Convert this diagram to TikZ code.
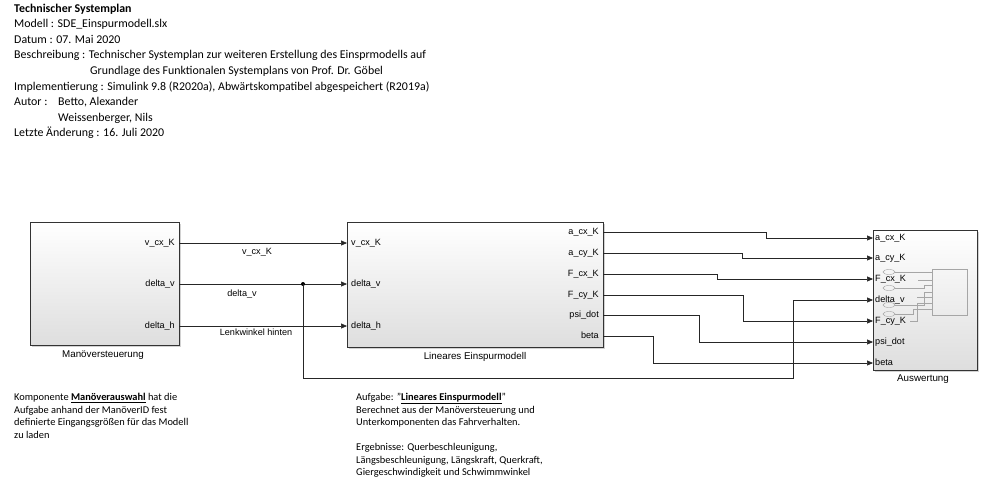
\documentclass[tikz,border=0pt]{standalone}
\usepackage{fontspec}
\setmainfont{Carlito}
\newfontfamily\arialf{Liberation Sans}
\usetikzlibrary{arrows.meta,shadows}
\begin{document}
\begin{tikzpicture}[x=1pt,y=-1pt,
 hdr/.style={anchor=west,inner sep=0,text height=8pt,text depth=2.5pt,font=\fontsize{11.9}{13}\selectfont},
 note/.style={anchor=west,inner sep=0,text height=7pt,text depth=2pt,font=\fontsize{10.4}{12}\selectfont},
 blk/.style={draw=black!80, line width=0.8pt, top color=white, bottom color=black!13, anchor=north west, inner sep=0,
   drop shadow={shadow xshift=1.5pt,shadow yshift=-1.5pt,opacity=0.35}},
 port/.style={inner sep=0, text height=6.5pt, text depth=1.8pt, font=\arialf\fontsize{9.1}{10}\selectfont},
 ttl/.style={inner sep=0, font=\arialf\fontsize{9.8}{11}\selectfont},
 wire/.style={line width=0.6pt, draw=black!85},
 sig/.style={wire,-{Triangle[length=6pt,width=5pt]}},
 icon/.style={draw=black!35, line width=0.4pt}
]
\useasboundingbox[fill=white] (0,0) rectangle (1000,480);

% header
\node[hdr,font=\fontsize{11.9}{13}\selectfont\bfseries] (h1) at (14,9.5) {Technischer Systemplan};
\node[hdr] (h2) at (14,25) {Modell : SDE\_Einspurmodell.slx};
\node[hdr] (h3) at (14,40.5) {Datum : 07. Mai 2020};
\node[hdr] (h4) at (14,56) {Beschreibung : Technischer Systemplan zur weiteren Erstellung des Einsprmodells auf};
\node[hdr] (h5) at (90,71.5) {Grundlage des Funktionalen Systemplans von Prof. Dr. Göbel};
\node[hdr] (h6) at (14,87.5) {Implementierung : Simulink 9.8 (R2020a), Abwärtskompatibel abgespeichert (R2019a)};
\node[hdr] (h7) at (14,103) {Autor :};
\node[hdr] (h7b) at (58,103) {Betto, Alexander};
\node[hdr] (h8) at (58,118.5) {Weissenberger, Nils};
\node[hdr] (h9) at (14,134) {Letzte Änderung : 16. Juli 2020};

% blocks
\node[blk, minimum width=149pt, minimum height=123pt] (man) at (30,222) {};
\node[blk, minimum width=256pt, minimum height=125pt] (ein) at (347,222) {};
\node[blk, minimum width=104pt, minimum height=140pt] (aus) at (873,230) {};

\node[ttl] (tman) at (103,355) {Manöversteuerung};
\node[ttl] (tein) at (475,357) {Lineares Einspurmodell};
\node[ttl] (taus) at (923,379.5) {Auswertung};

% Auswertung icon
\draw[icon] (932,269) rectangle (967,315);
\foreach \yy in {272,288,305,314} \draw[icon] (889,\yy) ellipse (6pt and 2.5pt);
\draw[icon] (895,272) -- (932,272);
\draw[icon] (918,280) -- (932,280);
\draw[icon] (895,288) -- (924,288) -- (924,285) -- (932,285);
\draw[icon] (917,297) -- (932,297);
\draw[icon] (895,305) -- (924,305) -- (924,292) -- (932,292);
\draw[icon] (895,314) -- (913,314) -- (913,309) -- (932,309);
\draw[icon] (910,321) -- (917,321) -- (917,303) -- (932,303);

% ports Manoeversteuerung
\node[port,anchor=east] (pm1) at (175,243) {v\_cx\_K};
\node[port,anchor=east] (pm2) at (175,284.5) {delta\_v};
\node[port,anchor=east] (pm3) at (175,326) {delta\_h};
\coordinate (mo1) at (179,243);
\coordinate (mo2) at (179,284);
\coordinate (mo3) at (179,326);

% ports Einspurmodell
\node[port,anchor=west] (pe1) at (351,243) {v\_cx\_K};
\node[port,anchor=west] (pe2) at (351,284.5) {delta\_v};
\node[port,anchor=west] (pe3) at (351,326) {delta\_h};
\coordinate (ei1) at (347,243);
\coordinate (ei2) at (347,284);
\coordinate (ei3) at (347,326);

\node[port,anchor=east] (po1) at (599,232) {a\_cx\_K};
\node[port,anchor=east] (po2) at (599,253) {a\_cy\_K};
\node[port,anchor=east] (po3) at (599,274) {F\_cx\_K};
\node[port,anchor=east] (po4) at (599,295) {F\_cy\_K};
\node[port,anchor=east] (po5) at (599,315.5) {psi\_dot};
\node[port,anchor=east] (po6) at (599,336) {beta};
\coordinate (eo1) at (603,232);
\coordinate (eo2) at (603,253);
\coordinate (eo3) at (603,274);
\coordinate (eo4) at (603,295);
\coordinate (eo5) at (603,315);
\coordinate (eo6) at (603,336);

% ports Auswertung
\node[port,anchor=west] (pa1) at (875,238) {a\_cx\_K};
\node[port,anchor=west] (pa2) at (875,258.5) {a\_cy\_K};
\node[port,anchor=west] (pa3) at (875,279.5) {F\_cx\_K};
\node[port,anchor=west] (pa4) at (875,300) {delta\_v};
\node[port,anchor=west] (pa5) at (875,321) {F\_cy\_K};
\node[port,anchor=west] (pa6) at (875,342) {psi\_dot};
\node[port,anchor=west] (pa7) at (875,363) {beta};
\coordinate (ai1) at (873,238);
\coordinate (ai2) at (873,258);
\coordinate (ai3) at (873,279);
\coordinate (ai4) at (873,300);
\coordinate (ai5) at (873,321);
\coordinate (ai6) at (873,342);
\coordinate (ai7) at (873,363);

% wires
\coordinate (jn) at (303,284);
\draw[sig] (mo1) -- (ei1);
\draw[sig] (mo2) -- (ei2);
\draw[sig] (mo3) -- (ei3);
\fill[black] (jn) circle (2pt);
\draw[sig] (jn) -- (303,378) -- (793,378) -- (793,300) -- (ai4);

\draw[sig] (eo1) -- (766,232) -- (766,238) -- (ai1);
\draw[sig] (eo2) -- (742,253) -- (742,258) -- (ai2);
\draw[sig] (eo3) -- (717,274) -- (717,279) -- (ai3);
\draw[sig] (eo4) -- (743,295) -- (743,321) -- (ai5);
\draw[sig] (eo5) -- (699,315) -- (699,342) -- (ai6);
\draw[sig] (eo6) -- (653,336) -- (653,363) -- (ai7);

% wire labels
\node[port] (lw1) at (257,252) {v\_cx\_K};
\node[port] (lw2) at (242,294) {delta\_v};
\node[port] (lw3) at (256,333.5) {Lenkwinkel hinten};

% notes
\node[note] (n1) at (14,398) {Komponente \underline{\textbf{Manöverauswahl}} hat die};
\node[note] (n2) at (14,410.5) {Aufgabe anhand der ManöverID fest};
\node[note] (n3) at (14,423) {definierte Eingangsgrößen für das Modell};
\node[note] (n4) at (14,435.5) {zu laden};

\node[note] (m1) at (356,398) {Aufgabe: "\underline{\textbf{Lineares Einspurmodell}}"};
\node[note] (m2) at (356,410.5) {Berechnet aus der Manöversteuerung und};
\node[note] (m3) at (356,423) {Unterkomponenten das Fahrverhalten.};
\node[note] (m4) at (356,448) {Ergebnisse: Querbeschleunigung,};
\node[note] (m5) at (356,460.5) {Längsbeschleunigung, Längskraft, Querkraft,};
\node[note] (m6) at (356,473) {Giergeschwindigkeit und Schwimmwinkel};
\end{tikzpicture}
\end{document}
